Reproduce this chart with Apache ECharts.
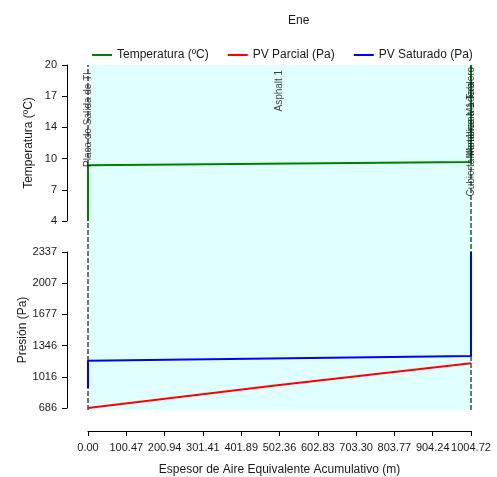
<!DOCTYPE html>
<html>
<head>
<meta charset="utf-8">
<script src="https://cdn.jsdelivr.net/npm/echarts@6/dist/echarts.min.js"></script>
<style>html,body{margin:0;padding:0;background:#fff}#c{width:497px;height:477px}</style>
</head>
<body>
<div id="c"></div>
<script>
// ---- data ----
const xMax = 1004.716;
const xTickValues = [0, 100.4716, 200.9432, 301.4148, 401.8864, 502.358, 602.8296, 703.3012, 803.7728, 904.2444, 1004.716];
const xTickLabels = ['0.00','100.47','200.94','301.41','401.89','502.36','602.83','703.30','803.77','904.24','1004.72'];
const tempTickValues = [4, 7.2, 10.4, 13.6, 16.8, 20];
const tempTickLabels = ['4','7','10','14','17','20'];
const presTickValues = [686, 1016.2, 1346.4, 1676.6, 2006.8, 2337];
const presTickLabels = ['686','1016','1346','1677','2007','2337'];

const tempX = [0, 0, 1004.716, 1004.716];
const tempY = [4.0, 9.72, 10.06, 20.0];
const pvSatX = [0, 0, 1004.716, 1004.716];
const pvSatY = [898, 1186, 1236, 2337];
const pvParX = [0, 502, 1004.716];
const pvParY = [686, 930, 1160];

const layerBounds = [0, 0, 1004.716, 1004.716];
const layerNames = ['Placa de Salida de Tl', 'Asphalt 1', 'Cubierta Metálica Madera', 'Membrana 1 Tablero'];
const layerMidX = [0, 502.358, 1004.716, 1004.716];

// ---- chart ----
const font = "'Liberation Sans', Arial, sans-serif";
const txt = '#1a1a1a';
function lookup(vals, labs){ return v => { for (let i=0;i<vals.length;i++){ if (Math.abs(vals[i]-v) < 1e-6*Math.max(1,Math.abs(v))) return labs[i]; } return ''; }; }
const zip = (a,b) => a.map((v,i)=>[v,b[i]]);

const chart = echarts.init(document.getElementById('c'), null, {renderer:'canvas'});

const boundarySeries = layerBounds.map((b,i) => ({
  type:'line', xAxisIndex:2, yAxisIndex:2, data:[[b,0],[b,1]], symbol:'none', silent:true,
  lineStyle:{color: b > 0 ? '#5f7f5f' : '#444', width: b > 0 ? 2 : 1, type:[5,2]}, z:1, legendHoverLink:false
}));

const labelPos = [
  {y:0.716, align:'left', dx:-4},
  {y:0.986, align:'right', dx:0},
  {y:0.61, align:'left', dx:3},
  {y:0.72, align:'left', dx:3}
];
const labelSeries = layerNames.map((n,i) => ({
  type:'scatter', xAxisIndex:2, yAxisIndex:2, symbolSize:0, silent:true, z:5,
  data:[[layerMidX[i], labelPos[i].y]],
  label:{show:true, position:'inside', formatter:n, rotate:90, align:labelPos[i].align, verticalAlign:'middle',
    offset:[labelPos[i].dx,0], fontSize:10, fontFamily:font, color:'#111'}
}));

function yAxisCfg(grid, min, max, name, gap, vals, labs){
  return {
    gridIndex:grid, type:'value', min:min, max:max, offset:21,
    name:name, nameLocation:'middle', nameRotate:90, nameGap:gap, nameMoveOverlap:false,
    nameTextStyle:{fontSize:12, fontFamily:font, color:txt},
    axisLine:{show:true, onZero:false, lineStyle:{color:'#000', width:1}},
    axisTick:{show:true, inside:false, length:5, customValues:vals, lineStyle:{color:'#000'}},
    axisLabel:{customValues:vals, formatter:lookup(vals,labs), fontSize:11, fontFamily:font, color:txt, margin:10},
    splitLine:{show:false}
  };
}

chart.setOption({
  animation:false,
  backgroundColor:'#fff',
  title:{text:'Ene', left:283, top:10, textStyle:{fontSize:12, fontWeight:'normal', fontFamily:font, color:txt}},
  legend:{
    left:87, top:44, itemGap:19, itemWidth:20, itemHeight:2, icon:'rect',
    textStyle:{fontSize:12, fontFamily:font, color:txt},
    data:['Temperatura (ºC)','PV Parcial (Pa)','PV Saturado (Pa)']
  },
  grid:[
    {left:88, right:26, top:65, height:156, containLabel:false, outerBoundsMode:'none'},
    {left:88, right:26, top:252, height:156, containLabel:false, outerBoundsMode:'none'},
    {left:88, right:26, top:65, bottom:67, show:true, backgroundColor:'#E0FFFF', borderWidth:0, z:0, containLabel:false, outerBoundsMode:'none'}
  ],
  xAxis:[
    {gridIndex:0, type:'value', min:0, max:xMax, show:false},
    {gridIndex:1, type:'value', min:0, max:xMax, show:false},
    {gridIndex:2, type:'value', min:0, max:xMax, offset:21, position:'bottom',
      axisLine:{show:true, onZero:false, lineStyle:{color:'#000'}},
      axisTick:{show:true, inside:false, length:5, customValues:xTickValues, lineStyle:{color:'#000'}},
      axisLabel:{show:true, customValues:xTickValues, formatter:lookup(xTickValues,xTickLabels), fontSize:11, fontFamily:font, color:txt, margin:11},
      splitLine:{show:false},
      name:'Espesor de Aire Equivalente Acumulativo (m)', nameLocation:'middle', nameGap:33, nameMoveOverlap:false,
      nameTextStyle:{fontSize:12, fontFamily:font, color:txt}}
  ],
  yAxis:[
    yAxisCfg(0, 4, 20, 'Temperatura (ºC)', 32, tempTickValues, tempTickLabels),
    yAxisCfg(1, 686, 2337, 'Presión (Pa)', 38, presTickValues, presTickLabels),
    {gridIndex:2, type:'value', min:0, max:1, show:false}
  ],
  series:[
    ...boundarySeries,
    {name:'Temperatura (ºC)', type:'line', xAxisIndex:0, yAxisIndex:0, data:zip(tempX,tempY), symbol:'none',
      lineStyle:{color:'#008000', width:2}, itemStyle:{color:'#008000'}, z:3},
    {name:'PV Parcial (Pa)', type:'line', xAxisIndex:1, yAxisIndex:1, data:zip(pvParX,pvParY), symbol:'none',
      lineStyle:{color:'#ff0000', width:2}, itemStyle:{color:'#ff0000'}, z:3},
    {name:'PV Saturado (Pa)', type:'line', xAxisIndex:1, yAxisIndex:1, data:zip(pvSatX,pvSatY), symbol:'none',
      lineStyle:{color:'#0000ff', width:2}, itemStyle:{color:'#0000ff'}, z:3},
    ...labelSeries
  ]
});
</script>
</body>
</html>
